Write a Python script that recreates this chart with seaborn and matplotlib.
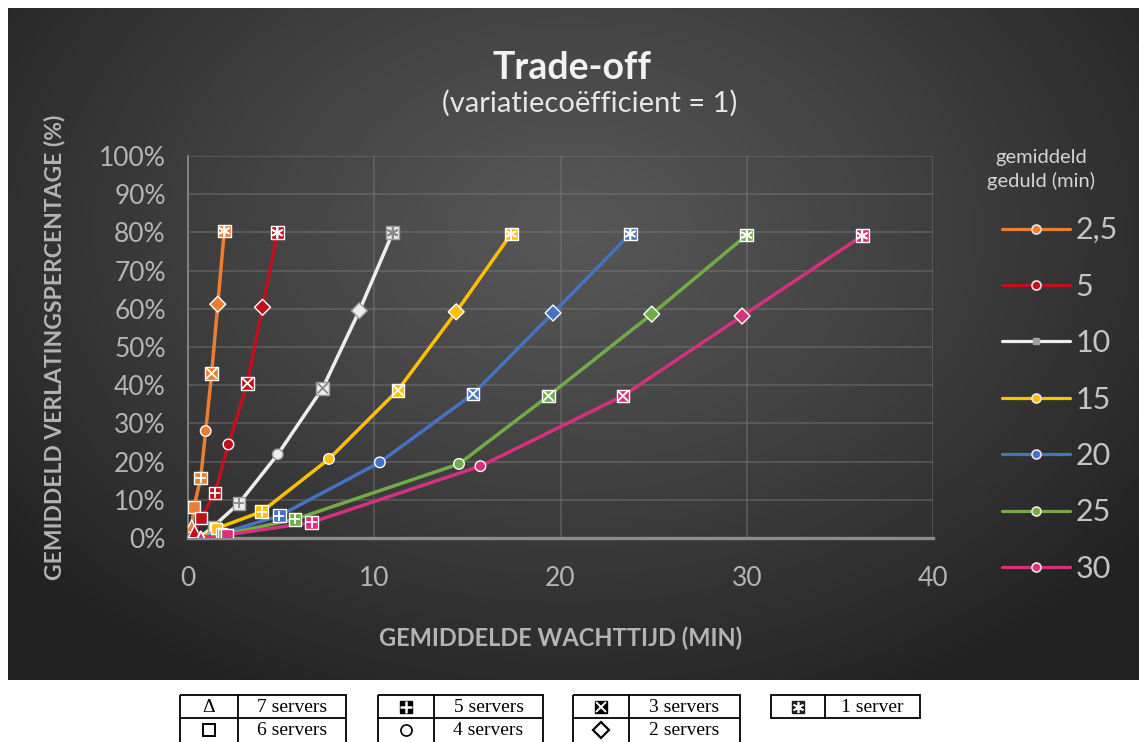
import numpy as np
import pandas as pd
import matplotlib
matplotlib.use("Agg")
import matplotlib.pyplot as plt
import seaborn as sns
from matplotlib.lines import Line2D
from matplotlib.patches import Rectangle
from matplotlib.ticker import PercentFormatter, MultipleLocator

# ---- data: mean waiting time (min) and mean abandonment (%) per mean patience,
#      one point per number of servers (7 down to 1)
patience = ["2,5", "5", "10", "15", "20", "25", "30"]
servers = [7, 6, 5, 4, 3, 2, 1]
colors = ["#ED7D31", "#C0101C", "#EDEDED", "#FFC000", "#4472C4", "#70AD47", "#D6307F"]

wait_2_5 = [0.20, 0.32, 0.68, 0.95, 1.27, 1.60, 1.95]
aband_2_5 = [3.1, 8.1, 15.7, 28.0, 43.1, 61.2, 80.4]
wait_5 = [0.35, 0.70, 1.45, 2.17, 3.19, 4.00, 4.80]
aband_5 = [1.7, 5.2, 11.8, 24.5, 40.5, 60.4, 79.9]
wait_10 = [0.65, 1.36, 2.74, 4.82, 7.23, 9.20, 10.99]
aband_10 = [0.2, 3.0, 9.1, 21.9, 39.2, 59.5, 79.9]
wait_15 = [0.70, 1.54, 3.96, 7.57, 11.27, 14.40, 17.35]
aband_15 = [0.1, 2.5, 6.9, 20.7, 38.7, 59.2, 79.6]
wait_20 = [0.70, 1.80, 4.90, 10.30, 15.30, 19.60, 23.75]
aband_20 = [0.1, 1.2, 5.8, 19.8, 37.7, 58.9, 79.6]
wait_25 = [0.70, 1.90, 5.75, 14.55, 19.35, 24.90, 30.00]
aband_25 = [0.1, 0.9, 4.9, 19.4, 37.2, 58.6, 79.3]
wait_30 = [0.70, 2.08, 6.64, 15.70, 23.35, 29.75, 36.20]
aband_30 = [0.1, 0.8, 4.1, 18.8, 37.2, 58.1, 79.1]

waits = [wait_2_5, wait_5, wait_10, wait_15, wait_20, wait_25, wait_30]
abands = [aband_2_5, aband_5, aband_10, aband_15, aband_20, aband_25, aband_30]

server_labels = ["7 servers", "6 servers", "5 servers", "4 servers",
                 "3 servers", "2 servers", "1 server"]

rows = []
for p, w_list, a_list in zip(patience, waits, abands):
    for s, w, a in zip(servers, w_list, a_list):
        rows.append({"geduld": p, "servers": s, "wacht": w, "verlating": a})
df = pd.DataFrame(rows)
palette = dict(zip(patience, colors))

# ---- style
sns.set_theme(style="dark")
plt.rcParams["font.family"] = ["Lato", "DejaVu Sans"]

W, H = 1139, 742
fig = plt.figure(figsize=(W / 100, H / 100), dpi=100, facecolor="white")

# background layer in pixel coordinates (dark panel + marker key tables)
bg = fig.add_axes([0, 0, 1, 1], zorder=0)
bg.set_xlim(0, W)
bg.set_ylim(H, 0)
bg.axis("off")

px0, py0, px1, py1 = 8, 8, W, 680
yy, xx = np.mgrid[py0:py1, px0:px1]
r = np.sqrt(((xx - 570) / 720.0) ** 2 + ((yy - 230) / 520.0) ** 2)
r = np.clip(r, 0, 1) ** 1.15
c_in, c_out = np.array([0x57, 0x57, 0x57]) / 255, np.array([0x22, 0x22, 0x22]) / 255
grad = c_in[None, None, :] * (1 - r[..., None]) + c_out[None, None, :] * r[..., None]
bg.imshow(grad, extent=(px0, px1, py1, py0), aspect="auto", interpolation="bilinear")

# ---- main plot
ax = fig.add_axes([188 / W, (H - 538) / H, 745 / W, 382 / H], zorder=1)
ax.set_facecolor("none")

sns.lineplot(data=df, x="wacht", y="verlating", hue="geduld", hue_order=patience,
             palette=palette, units="geduld", estimator=None, sort=False,
             linewidth=2.5, legend=False, ax=ax, zorder=3)

# marker for each number of servers: (base marker, base size, overlay glyph)
asterisk = (6, 2, 0)
marker_spec = {
    7: ("^", 80, None),
    6: ("s", 70, None),
    5: ("s", 84, "+"),
    4: ("o", 58, None),
    3: ("s", 84, "x"),
    2: ("D", 66, None),
    1: ("s", 84, asterisk),
}
edge_for = {p: ("#9a9a9a" if p == "10" else "white") for p in patience}
glyph_for = {p: ("#8a8a8a" if p == "10" else "white") for p in patience}

for s in servers:
    base, size, glyph = marker_spec[s]
    sub = df[df["servers"] == s]
    sns.scatterplot(data=sub, x="wacht", y="verlating", hue="geduld",
                    hue_order=patience, palette=palette, marker=base, s=size,
                    edgecolor=[edge_for[g] for g in sub["geduld"]], linewidth=1.0,
                    legend=False, ax=ax, zorder=4)
    if glyph is not None:
        ax.scatter(sub["wacht"], sub["verlating"], marker=glyph, s=56,
                   c=[glyph_for[g] for g in sub["geduld"]], linewidths=1.3, zorder=5)

ax.set_xlim(0, 40)
ax.set_ylim(0, 100)
ax.xaxis.set_major_locator(MultipleLocator(10))
ax.yaxis.set_major_locator(MultipleLocator(10))
ax.yaxis.set_major_formatter(PercentFormatter(100, decimals=0))
ax.grid(True, color="#7a7a7a", linewidth=1.1, alpha=0.55)
ax.set_axisbelow(True)
for side in ["top", "right"]:
    ax.spines[side].set_visible(False)
ax.spines["bottom"].set_color("#8c8c8c")
ax.spines["bottom"].set_linewidth(2.4)
ax.spines["left"].set_color("#8c8c8c")
ax.spines["left"].set_linewidth(1.2)
ax.tick_params(axis="both", length=0, colors="#b4b4b4", labelsize=19)
ax.tick_params(axis="x", pad=20)
ax.tick_params(axis="y", pad=16)

ax.set_xlabel("GEMIDDELDE WACHTTIJD (MIN)", fontsize=17, fontweight="bold",
              color="#b4b4b4", labelpad=26)
ax.set_ylabel("GEMIDDELD VERLATINGSPERCENTAGE (%)", fontsize=16.5, fontweight="bold",
              color="#b4b4b4", labelpad=24)

# ---- titles
fig.text(572 / W, 1 - 68 / H, "Trade-off", ha="center", va="center",
         fontsize=27, fontweight="bold", color="#f2f2f2")
fig.text(590 / W, 1 - 103 / H, "(variatiecoëfficient = 1)", ha="center",
         va="center", fontsize=21, color="#e6e6e6")

# ---- legend for mean patience
handles = []
for p, c in zip(patience, colors):
    if p == "10":
        h = Line2D([], [], color=c, lw=2.3, marker="s", markersize=5,
                   markerfacecolor="#a0a0a0", markeredgecolor="#a0a0a0")
    else:
        h = Line2D([], [], color=c, lw=2.3, marker="o", markersize=6.5,
                   markerfacecolor=c, markeredgecolor="#f4e4e4", markeredgewidth=1.2)
    handles.append(h)
leg = fig.legend(handles, patience, loc="upper left",
                 bbox_to_anchor=(987 / W, 1 - 201 / H), frameon=False,
                 fontsize=22, handlelength=2.2, handletextpad=0.2,
                 labelspacing=0.93, borderpad=0)
for t in leg.get_texts():
    t.set_color("#c4c4c4")
fig.text(1041 / W, 1 - 158 / H, "gemiddeld", ha="center", va="center",
         fontsize=14.5, color="#d4d4d4")
fig.text(1041 / W, 1 - 181 / H, "geduld (min)", ha="center", va="center",
         fontsize=14.5, color="#d4d4d4")

# ---- key of marker symbols per number of servers
table_left = [180, 378, 573, 771]
table_width = [166, 165, 167, 149]
symbol_width = [58, 56, 56, 54]
table_rows = [[0, 1], [2, 3], [4, 5], [6]]
top, row_h = 695, 23
for left, width, sw, idx in zip(table_left, table_width, symbol_width, table_rows):
    n = len(idx)
    bottom = top + row_h * n if n == 1 else H + 4
    bg.add_patch(Rectangle((left, top), width, bottom - top, fill=False,
                           edgecolor="black", linewidth=1.3, zorder=3))
    bg.plot([left + sw, left + sw], [top, bottom], color="black", lw=1.3, zorder=3)
    for k, i in enumerate(idx):
        yc = top + row_h * (k + 0.5)
        if k > 0:
            bg.plot([left, left + width], [top + row_h * k] * 2, color="black",
                    lw=1.3, zorder=3)
        bg.text(left + sw + (width - sw) / 2, yc + 1, server_labels[i],
                ha="center", va="center", fontsize=14,
                family=["Liberation Serif", "DejaVu Serif"], color="black")
        xs = left + sw / 2
        s = servers[i]
        if s == 7:
            bg.text(xs, yc + 1, "Δ", ha="center", va="center", fontsize=14,
                    family=["Liberation Serif", "DejaVu Serif"], color="black")
        elif s == 6:
            bg.plot(xs, yc, marker="s", ms=8, mfc="white", mec="black", mew=1.4)
        elif s == 5:
            bg.plot(xs, yc, marker="s", ms=9, mfc="black", mec="black")
            bg.plot(xs, yc, marker="+", ms=8, mec="white", mew=1.8)
        elif s == 4:
            bg.plot(xs, yc, marker="o", ms=8, mfc="white", mec="black", mew=1.2)
        elif s == 3:
            bg.plot(xs, yc, marker="s", ms=9, mfc="black", mec="black")
            bg.plot(xs, yc, marker="x", ms=7, mec="white", mew=1.4)
        elif s == 2:
            bg.plot(xs, yc, marker="D", ms=8, mfc="white", mec="black", mew=1.6)
        else:
            bg.plot(xs, yc, marker="s", ms=9, mfc="#222222", mec="#222222")
            bg.plot(xs, yc, marker=asterisk, ms=8, mec="white", mew=1.2)

fig.savefig("out.png", dpi=100, facecolor="white")
